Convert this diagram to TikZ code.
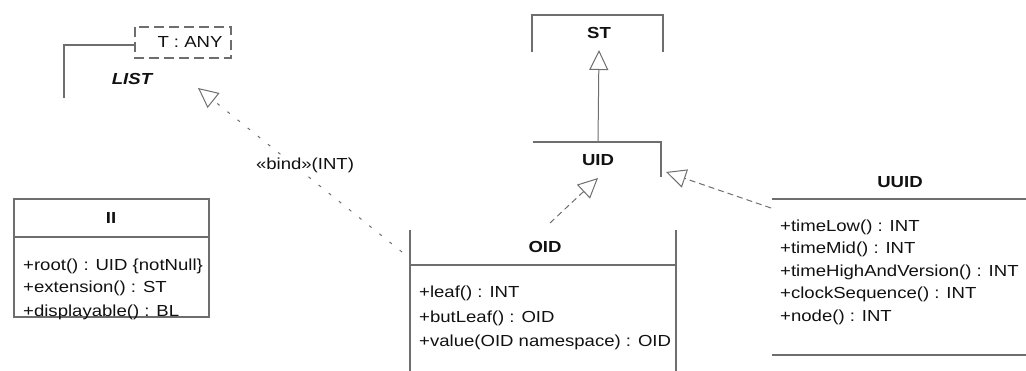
\documentclass[tikz,border=0pt]{standalone}
\usepackage{fontspec}
\setmainfont{Liberation Sans}[FakeStretch=1.16]
\usetikzlibrary{arrows.meta}
\definecolor{ln}{HTML}{6E6E6E}
\definecolor{tx}{HTML}{111111}
\begin{document}
\begin{tikzpicture}[x=1pt,y=-1pt,
  txt/.style={font=\fontsize{16}{19}\selectfont, text=tx, inner sep=0pt},
  attr/.style={txt, anchor=west},
  hdr/.style={txt, font=\fontsize{16}{19}\selectfont\bfseries},
  frame/.style={draw=ln, line width=1.1pt},
  gen/.style={draw=ln, line width=1pt, -{Triangle[open,length=20pt,width=19pt]}},
  real/.style={gen, dash pattern=on 6pt off 4pt},
  bindln/.style={gen, dash pattern=on 3pt off 10pt}]
\useasboundingbox (0,0) rectangle (1026,371);

% LIST
\draw[frame] (135,45) -- (64,45) -- (64,98);
\draw[frame, dash pattern=on 10pt off 5pt] (135,27) rectangle (231,58);
\node[txt] (tparam) at (190,42) {T : ANY};
\node[txt, font=\fontsize{16}{19}\selectfont\bfseries\itshape] (list) at (132,79) {LIST};
\coordinate (listtip) at (198,88);

% ST
\draw[frame] (532,52) -- (532,15) -- (663,15) -- (663,52);
\node[hdr] (st) at (599,33) {ST};
\coordinate (sttip) at (599,50);

% UID
\draw[frame] (533,142) -- (661,142) -- (661,177);
\node[hdr] (uid) at (598,160) {UID};
\coordinate (uidtop) at (598,142);
\coordinate (uidtipA) at (598,178);
\coordinate (uidtipB) at (666,172);

% II
\draw[frame] (14,199) rectangle (209,317);
\draw[frame] (14,237) -- (209,237);
\node[hdr] (ii) at (111,218) {II};
\node[attr] (ii1) at (23,266) {+root() : UID \{notNull\}};
\node[attr] (ii2) at (23,288) {+extension() : ST};
\node[attr] (ii3) at (23,312) {+displayable() : BL};

% OID
\draw[frame] (410,230) -- (410,371);
\draw[frame] (676,230) -- (676,371);
\draw[frame] (410,265) -- (676,265);
\node[hdr] (oid) at (545,247) {OID};
\node[attr] (oid1) at (419,293) {+leaf() : INT};
\node[attr] (oid2) at (419,318) {+butLeaf() : OID};
\node[attr] (oid3) at (419,342) {+value(OID namespace) : OID};
\coordinate (oidA) at (550,223);
\coordinate (oidB) at (402,252);

% UUID
\draw[frame] (772,199) -- (1026,199);
\draw[frame] (772,355) -- (1026,355);
\node[hdr] (uuid) at (900,182) {UUID};
\node[attr] (u1) at (780,227) {+timeLow() : INT};
\node[attr] (u2) at (780,249) {+timeMid() : INT};
\node[attr] (u3) at (780,272) {+timeHighAndVersion() : INT};
\node[attr] (u4) at (780,294) {+clockSequence() : INT};
\node[attr] (u5) at (780,317) {+node() : INT};
\coordinate (uuidA) at (771,208);

% connectors
\draw[gen] (uidtop) -- (sttip);
\draw[real] (oidA) -- (uidtipA);
\draw[real] (uuidA) -- (uidtipB);
\draw[bindln] (oidB) -- (listtip);
\node[txt, fill=white, inner sep=1pt] (bindlbl) at (305,165) {«bind»(INT)};
\end{tikzpicture}
\end{document}
